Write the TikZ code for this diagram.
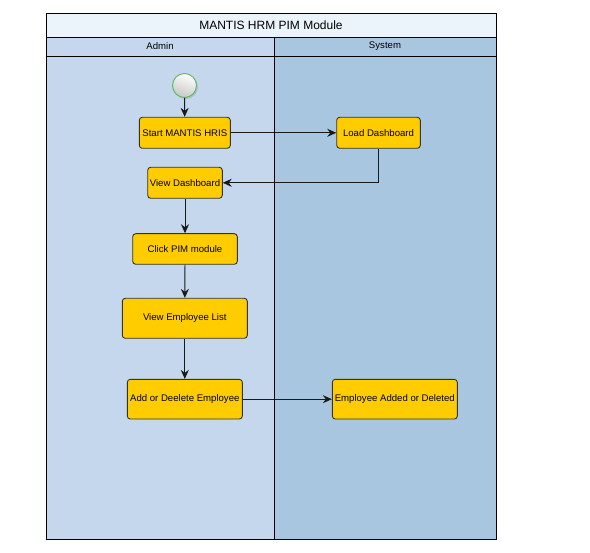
\documentclass[tikz,border=0pt]{standalone}
\usepackage{fontspec}
\setmainfont{Liberation Sans}
\usetikzlibrary{arrows.meta,shadows}
\definecolor{titlefill}{HTML}{EBF3FB}
\definecolor{adminfill}{HTML}{C4D7EC}
\definecolor{sysfill}{HTML}{A9C6E1}
\definecolor{boxfill}{HTML}{FFCC00}
\definecolor{boxline}{HTML}{333333}
\definecolor{startline}{HTML}{5CB85C}
\tikzset{
  act/.style={draw=boxline, fill=boxfill, rounded corners=3pt, line width=0.9pt,
    inner sep=0pt, align=center, font=\fontsize{9.6}{11}\selectfont},
  flow/.style={draw=black!90, line width=0.9pt, -{Stealth[length=9pt,width=8pt,inset=3pt]}},
  lane/.style={draw=black, line width=0.9pt},
}
\begin{document}
\begin{tikzpicture}[x=1pt,y=-1pt]
\useasboundingbox (0,0) rectangle (590,553);
% pool
\fill[white] (0,0) rectangle (590,553);
\draw[lane, fill=titlefill] (46,13) rectangle (496,37);
\draw[lane, fill=adminfill] (46,37) rectangle (274,56);
\draw[lane, fill=sysfill] (274,37) rectangle (496,56);
\draw[lane, fill=adminfill] (46,56) rectangle (274,539);
\draw[lane, fill=sysfill] (274,56) rectangle (496,539);
\node[font=\fontsize{12}{14}\selectfont] (title) at (271,25) {MANTIS HRM PIM Module};
\node[font=\fontsize{9.6}{11}\selectfont] (hadmin) at (160,46.5) {Admin};
\node[font=\fontsize{9.6}{11}\selectfont] (hsys) at (385,46.5) {System};
% start
\node[circle, minimum size=24pt, inner sep=0pt, draw=startline, line width=0.9pt,
  shading=axis, top color=white, bottom color=black!22, shading angle=-20,
  drop shadow={shadow xshift=1.5pt, shadow yshift=-1.5pt, opacity=0.3}] (start) at (184.5,85.5) {};
% activities
\node[act, minimum width=91pt, minimum height=31pt] (sm) at (184.8,132.8) {Start MANTIS HRIS};
\node[act, minimum width=83.6pt, minimum height=31pt] (ld) at (378.5,132.8) {Load Dashboard};
\node[act, minimum width=74.6pt, minimum height=31pt] (vd) at (185,182.8) {View Dashboard};
\node[act, minimum width=104.6pt, minimum height=30.6pt] (cp) at (185,249) {Click PIM module};
\node[act, minimum width=125pt, minimum height=40pt] (ve) at (184.8,318.3) {View Employee List};
\node[act, minimum width=115pt, minimum height=39.7pt] (ad) at (184.8,399.2) {Add or Deelete Employee};
\node[act, minimum width=125pt, minimum height=39.7pt] (ea) at (394.8,399.2) {Employee Added or Deleted};
% connectors
\draw[flow] (start) -- (sm);
\draw[flow] (sm) -- (ld);
\draw[flow] (ld.south) |- (vd.east);
\draw[flow] (vd) -- (cp);
\draw[flow] (cp) -- (ve);
\draw[flow] (ve) -- (ad);
\draw[flow] (ad) -- (ea);
\end{tikzpicture}
\end{document}
